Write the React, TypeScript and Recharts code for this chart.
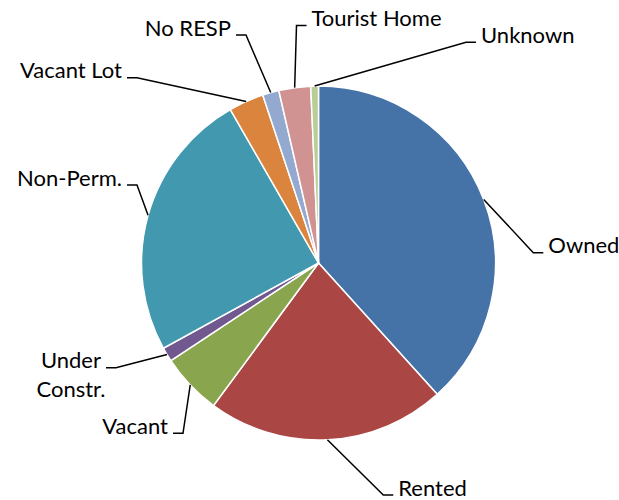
import React from 'react';
import { PieChart, Pie, Cell } from 'recharts';

const categories = ['Owned', 'Rented', 'Vacant', 'Under\nConstr.', 'Non-Perm.', 'Vacant Lot', 'No RESP', 'Tourist Home', 'Unknown'];
const shares = [38.3, 21.8, 5.6, 1.3, 24.7, 3.2, 1.5, 2.9, 0.7];
const colors = ['#4572A7', '#AA4643', '#89A54E', '#71588F', '#4198AF', '#DB843D', '#93A9CF', '#D19392', '#B9CD96'];

// label layout (elbow of the leader line relative to pie centre, and side of the text)
const labelElbows: [number, number][] = [
  [214.8, -10.3],
  [64.8, 232],
  [-135.5, 170.3],
  [-202.5, 104.7],
  [-181.5, -78],
  [-181.5, -185.3],
  [-72.5, -228],
  [-22, -237.5],
  [147.5, -220.7],
];
const labelSides = ['right', 'right', 'left', 'left', 'left', 'left', 'left', 'right', 'right'];

const data = categories.map((name, i) => ({ name, value: shares[i] }));

const FONT = 'Lato, "Open Sans", sans-serif';
const FS = 22;
const RADIAN = Math.PI / 180;

const renderLabel = (props: any) => {
  const { cx, cy, midAngle, outerRadius, index } = props;
  const sx = cx + outerRadius * Math.cos(-midAngle * RADIAN);
  const sy = cy + outerRadius * Math.sin(-midAngle * RADIAN);
  const [ex0, ey0] = labelElbows[index];
  const ex = cx + ex0;
  const ey = cy + ey0;
  const right = labelSides[index] === 'right';
  const lx = ex + (right ? 10 : -10);
  const tx = lx + (right ? 5 : -5);
  const lines = categories[index].split('\n');
  let textEl;
  if (lines.length > 1) {
    const maxLen = Math.max(...lines.map((l) => l.length));
    const w = maxLen * FS * 0.39;
    const mx = right ? tx + w / 2 : tx - w / 2;
    textEl = (
      <text x={mx} y={ey + 0.5} textAnchor="middle" fontFamily={FONT} fontSize={FS} fill="#000">
        {lines.map((l, k) => (
          <tspan key={k} x={mx} dy={k === 0 ? 0 : 29}>{l}</tspan>
        ))}
      </text>
    );
  } else {
    textEl = (
      <text x={tx} y={ey + 0.5} textAnchor={right ? 'start' : 'end'} fontFamily={FONT} fontSize={FS} fill="#000">
        {lines[0]}
      </text>
    );
  }
  return (
    <g key={`lbl-${index}`}>
      <polyline points={`${sx},${sy} ${ex},${ey} ${lx},${ey}`} fill="none" stroke="#000" strokeWidth={1.5} />
      {textEl}
    </g>
  );
};

export default function App() {
  return (
    <div style={{ position: 'absolute', left: 0, top: 0, width: 619, height: 500, background: '#fff' }}>
      <PieChart width={619} height={500} margin={{ top: 0, right: 0, bottom: 0, left: 0 }}>
        <Pie
          data={data}
          dataKey="value"
          nameKey="name"
          cx={318.5}
          cy={263}
          outerRadius={177}
          startAngle={90}
          endAngle={-270}
          stroke="#fff"
          strokeWidth={1.5}
          label={renderLabel}
          labelLine={false}
          isAnimationActive={false}
        >
          {data.map((d, i) => (
            <Cell key={d.name} fill={colors[i]} />
          ))}
        </Pie>
      </PieChart>
    </div>
  );
}
